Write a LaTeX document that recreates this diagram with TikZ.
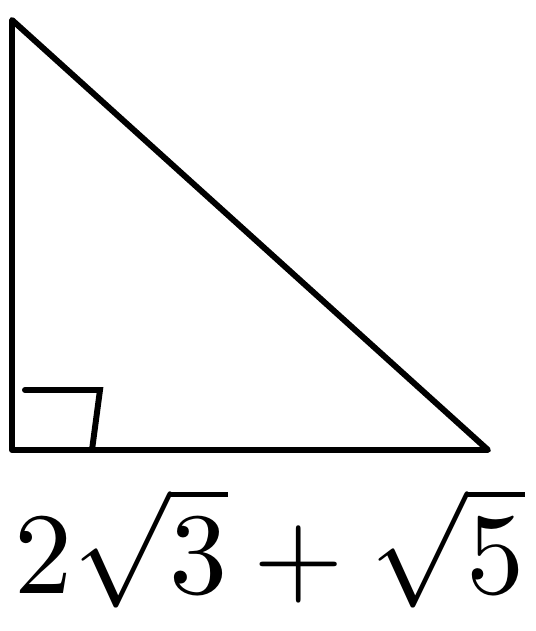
\documentclass[tikz,border=0pt]{standalone}
\usepackage{amsmath}
\usepackage{graphicx}
\usetikzlibrary{positioning,calc}
\begin{document}
\begin{tikzpicture}[x=0.02cm,y=-0.02cm]
        %riquadro
        \useasboundingbox (0,0) rectangle (535,631);
        %vertici
        \coordinate (A) at (12,20);
        \coordinate (B) at (12,450);
        \coordinate (C) at (488,450);
        %triangolo
        \draw[line width=3.4pt,line join=round,line cap=round] (A)--(B)--(C)--cycle;
        %angolo retto
        \draw[line width=3.4pt,line cap=round] (25,390)--++ (75,0)--++ (-8,60);
        %label
        \node (base) at (270,548) {\resizebox{10.2cm}{!}{$2\sqrt{3}+\sqrt{5}$}};
\end{tikzpicture}
\end{document}
